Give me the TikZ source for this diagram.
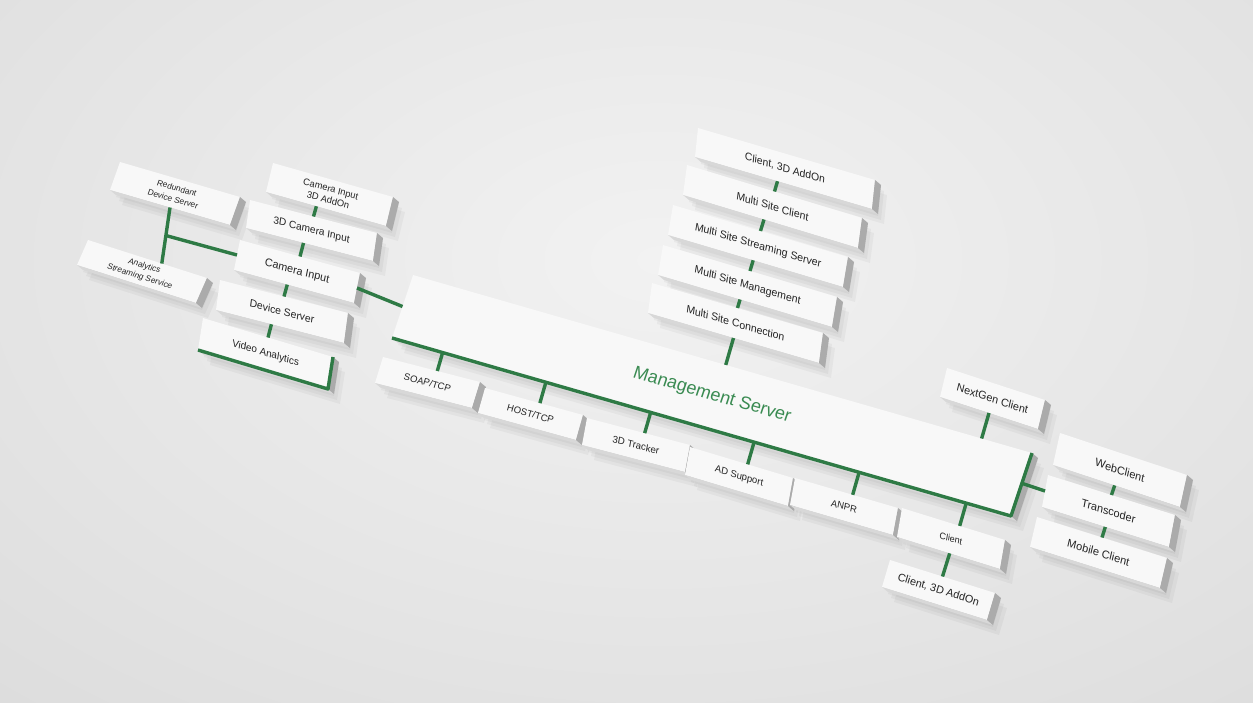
\documentclass[tikz,border=0pt]{standalone}
\usepackage{fontspec}
\setmainfont{Liberation Sans}
\usetikzlibrary{calc}
\definecolor{bgin}{HTML}{F2F2F2}
\definecolor{bgout}{HTML}{D6D6D6}
\definecolor{lgreen}{HTML}{2E7A45}
\definecolor{tgreen}{HTML}{3A8B52}
\definecolor{topface}{HTML}{F8F8F8}
\definecolor{frontface}{HTML}{D8D8D8}
\definecolor{sideface}{HTML}{ABABAB}
\definecolor{txt}{HTML}{242424}
\pgfdeclarelayer{bg}
\pgfdeclarelayer{shd}
\pgfsetlayers{bg,shd,main}
\tikzset{
  boxst/.style={rectangle, fill=topface, inner sep=0pt, outer sep=0pt, align=center, text=txt},
  stub/.style={draw=lgreen, line width=3.4pt},
  bus/.style={draw=lgreen, line width=3.4pt, line join=round},
}
% name, TLx, TLy, TRx, TRy, BLx, BLy, font, text   (image pixel coordinates)
\newcommand\pbox[9]{%
  \pgfmathsetmacro\pbLw{veclen(#4-#2,#5-#3)}%
  \pgfmathsetmacro\pbLh{veclen(#6-#2,#7-#3)}%
  \pgfmathsetmacro\pbA{(#4-#2)/\pbLw}%
  \pgfmathsetmacro\pbB{(#3-#5)/\pbLw}%
  \pgfmathsetmacro\pbC{(#2-#6)/\pbLh}%
  \pgfmathsetmacro\pbD{(#7-#3)/\pbLh}%
  \pgfmathsetmacro\pbCx{(#4+#6)/2}%
  \pgfmathsetmacro\pbCy{(#5+#7)/2}%
  \begin{scope}[shift={(\pbCx,\pbCy)},cm={\pbA,\pbB,\pbC,\pbD,(0,0)}]
    \node[boxst,transform shape,minimum width=\pbLw pt,minimum height=\pbLh pt,font=#8] (#1) at (0,0) {#9};
  \end{scope}
  \fill[frontface] (#1.south west) -- (#1.south east) -- ($(#1.south east)+(6,5)$) -- ($(#1.south west)+(6,5)$) -- cycle;
  \fill[sideface] (#1.north east) -- (#1.south east) -- ($(#1.south east)+(6,5)$) -- ($(#1.north east)+(6,5)$) -- cycle;
  \begin{pgfonlayer}{shd}
    \foreach \ox/\oy in {6/7,9/11,12/15}{
      \fill[black,opacity=0.035] ($(#1.north west)+(\ox,\oy)$) -- ($(#1.north east)+(\ox,\oy)$) -- ($(#1.south east)+(\ox,\oy)$) -- ($(#1.south west)+(\ox,\oy)$) -- cycle;
    }
  \end{pgfonlayer}
}
% short link from the top of a lower box straight up to the bottom edge of the box above it
\newcommand\link[2]{%
  \draw[stub] (#2.north) -- ($(#1.south west)!(#2.north)!(#1.south east)$);
}
\newcommand\busstub[1]{%
  \coordinate (#1T) at ($(#1.north west)!0.56!(#1.north east)$);
  \draw[stub] (#1T) -- ($(MS.south west)!(#1T)!(MS.south east)$);
}
\begin{document}
\begin{tikzpicture}[x=1pt,y=-1pt]
\useasboundingbox (0,0) rectangle (1253,702);
\begin{pgfonlayer}{bg}
  \fill[bgout] (0,0) rectangle (1253,702);
  \begin{scope}
    \clip (0,0) rectangle (1253,702);
    \shade[inner color=bgin, outer color=bgout] (660,260) ellipse (1300 and 800);
  \end{scope}
\end{pgfonlayer}

% Multi site stack
\pbox{MCthree}{698}{128}{875}{180}{695}{157}{\fontsize{10.7}{13}\selectfont}{Client, 3D AddOn}
\pbox{MSC}{687}{165}{862}{218}{683}{195}{\fontsize{10.8}{13}\selectfont}{Multi Site Client}
\pbox{MSSS}{673}{205}{848}{257}{668}{235}{\fontsize{10.8}{13}\selectfont}{Multi Site Streaming Server}
\pbox{MSM}{663}{245}{837}{297}{658}{275}{\fontsize{10.8}{13}\selectfont}{Multi Site Management}
\pbox{MSCo}{652}{283}{823}{333}{648}{313}{\fontsize{10.8}{13}\selectfont}{Multi Site Connection}

% left group
\pbox{RDS}{120}{162}{240}{197}{110}{190}{\fontsize{8.3}{11.5}\selectfont}{Redundant\\Device Server}
\pbox{ASS}{88}{240}{207}{278}{77}{265}{\fontsize{8.3}{11.5}\selectfont}{Analytics\\Streaming Service}
\pbox{CIthree}{273}{163}{393}{197}{266}{192}{\fontsize{9.4}{11.5}\selectfont}{Camera Input\\3D AddOn}
\pbox{DCI}{250}{200}{377}{233}{246}{228}{\fontsize{10.3}{12}\selectfont}{3D Camera Input}
\pbox{CI}{240}{240}{360}{273}{234}{270}{\fontsize{11}{13}\selectfont}{Camera Input}
\pbox{DS}{220}{280}{348}{313}{216}{310}{\fontsize{10.6}{13}\selectfont}{Device Server}
\pbox{VA}{203}{318}{333}{357}{198}{350}{\fontsize{10.2}{12}\selectfont}{Video Analytics}

% management server
\pbox{MS}{413}{275}{1032}{453}{392}{338}{\fontsize{18}{21}\selectfont}{\color{tgreen}Management Server}
\pbox{NG}{947}{368}{1045}{400}{940}{397}{\fontsize{11}{13}\selectfont}{NextGen Client}

% bottom row
\pbox{SOAP}{383}{357}{480}{382}{375}{383}{\fontsize{9.5}{12}\selectfont}{SOAP/TCP}
\pbox{HOST}{485}{388}{583}{415}{478}{413}{\fontsize{9.5}{12}\selectfont}{HOST/TCP}
\pbox{TDT}{587}{418}{690}{445}{582}{445}{\fontsize{9.8}{12}\selectfont}{3D Tracker}
\pbox{AD}{690}{447}{793}{478}{685}{475}{\fontsize{9.7}{12}\selectfont}{AD Support}
\pbox{ANPR}{795}{478}{898}{508}{790}{505}{\fontsize{9.6}{12}\selectfont}{ANPR}
\pbox{CL}{902}{508}{1005}{540}{897}{537}{\fontsize{9.2}{12}\selectfont}{Client}
\pbox{CLthree}{890}{560}{995}{593}{882}{587}{\fontsize{10.9}{13}\selectfont}{Client, 3D AddOn}

% right group
\pbox{WC}{1060}{433}{1187}{475}{1053}{465}{\fontsize{11.2}{13}\selectfont}{WebClient}
\pbox{TC}{1048}{475}{1175}{515}{1042}{507}{\fontsize{11.2}{13}\selectfont}{Transcoder}
\pbox{MC}{1037}{517}{1167}{558}{1030}{547}{\fontsize{11.2}{13}\selectfont}{Mobile Client}

% connectors
\link{MCthree}{MSC}
\link{MSC}{MSSS}
\link{MSSS}{MSM}
\link{MSM}{MSCo}
\draw[stub] (MSCo.south) -- ($(MS.north west)!(MSCo.south)!(MS.north east)$);

\link{CIthree}{DCI}
\link{DCI}{CI}
\link{CI}{DS}
\link{DS}{VA}
\draw[bus] (VA.south west) -- (VA.south east) -- (VA.north east);

\coordinate (asstop) at ($(ASS.north west)!0.62!(ASS.north east)$);
\draw[stub] (RDS.south) -- (asstop);
\coordinate (rdsj) at ($(RDS.south)!0.5!(asstop)$);
\draw[stub] (rdsj) -- (CI.west);
\draw[stub] (CI.east) -- (MS.west);

\draw[bus] (MS.south west) -- (MS.south east) -- (MS.north east);
\busstub{SOAP}
\busstub{HOST}
\busstub{TDT}
\busstub{AD}
\busstub{ANPR}
\busstub{CL}
\link{CL}{CLthree}

\draw[stub] (NG.south) -- ($(MS.north west)!(NG.south)!(MS.north east)$);
\draw[stub] (TC.west) -- ($(MS.north east)!(TC.west)!(MS.south east)$);
\link{WC}{TC}
\link{TC}{MC}
\end{tikzpicture}
\end{document}
